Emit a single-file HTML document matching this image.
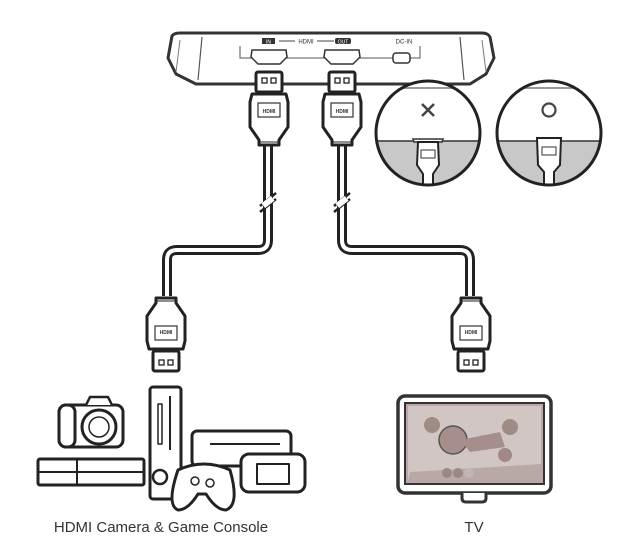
<!DOCTYPE html>
<html><head><meta charset="utf-8"><style>
html,body{margin:0;padding:0;background:#fff;}
svg{display:block;}
text{font-family:"Liberation Sans",sans-serif;}
</style></head><body>
<svg width="633" height="549" viewBox="0 0 633 549" xmlns="http://www.w3.org/2000/svg">
<defs>
<g id="plug">
  <!-- plug pointing up, origin at top center of tip -->
  <rect x="-13" y="0" width="26" height="20" rx="2" fill="#fff" stroke="#222" stroke-width="3"/>
  <rect x="-7" y="6" width="5" height="5" fill="none" stroke="#222" stroke-width="1.3"/>
  <rect x="2" y="6" width="5" height="5" fill="none" stroke="#222" stroke-width="1.3"/>
  <path d="M-17,22 L17,22 L19,30 L19,55 L10,68 L10,73 L-10,73 L-10,68 L-19,55 L-19,30 Z" fill="#fff" stroke="#222" stroke-width="3" stroke-linejoin="round"/>
  <rect x="-11" y="31" width="22" height="14" fill="none" stroke="#333" stroke-width="1.2"/>
  <text x="0" y="41" font-size="5" text-anchor="middle" fill="#333" font-weight="bold">HDMI</text>
  <line x1="-10" y1="70" x2="10" y2="70" stroke="#222" stroke-width="1"/>
</g>
</defs>

<!-- device -->
<path d="M172,36 Q174,33 180,33 L482,33 Q488,33 490,37 L494,58 L486,74 L470,84 L196,84 L176,74 L168,58 Z" fill="#fff" stroke="#333" stroke-width="3" stroke-linejoin="round"/>
<line x1="202" y1="37" x2="198" y2="80" stroke="#555" stroke-width="1.2"/>
<line x1="460" y1="37" x2="464" y2="80" stroke="#555" stroke-width="1.2"/>
<line x1="180" y1="40" x2="176" y2="72" stroke="#777" stroke-width="1"/>
<line x1="482" y1="40" x2="486" y2="72" stroke="#777" stroke-width="1"/>
<path d="M240,46 L240,58 L420,58 L420,46" fill="none" stroke="#555" stroke-width="1"/>
<rect x="262" y="38" width="13" height="6" fill="#333"/>
<text x="268.5" y="43.5" font-size="5" fill="#fff" text-anchor="middle">IN</text>
<line x1="279" y1="41" x2="295" y2="41" stroke="#444" stroke-width="1"/>
<text x="306" y="43.5" font-size="6" fill="#333" text-anchor="middle">HDMI</text>
<line x1="317" y1="41" x2="334" y2="41" stroke="#444" stroke-width="1"/>
<rect x="335" y="38" width="16" height="6" rx="2" fill="#333"/>
<text x="343" y="43.5" font-size="5" fill="#fff" text-anchor="middle">OUT</text>
<text x="404" y="43.5" font-size="6" fill="#333" text-anchor="middle">DC-IN</text>
<path d="M252,50 L286,50 L287,57 L280,64 L258,64 L251,57 Z" fill="#fff" stroke="#333" stroke-width="1.5"/>
<path d="M325,50 L359,50 L360,57 L353,64 L331,64 L324,57 Z" fill="#fff" stroke="#333" stroke-width="1.5"/>
<rect x="393" y="53" width="17" height="10" rx="3" fill="#fff" stroke="#333" stroke-width="1.5"/>

<!-- left cable -->
<path d="M268,145 L268,240 Q268,250 258,250 L177,250 Q167,250 167,260 L167,296" fill="none" stroke="#222" stroke-width="10" stroke-linejoin="round"/>
<path d="M268,145 L268,240 Q268,250 258,250 L177,250 Q167,250 167,260 L167,296" fill="none" stroke="#fff" stroke-width="4" stroke-linejoin="round"/>
<path d="M342,145 L342,240 Q342,250 352,250 L460,250 Q470,250 470,260 L470,296" fill="none" stroke="#222" stroke-width="10" stroke-linejoin="round"/>
<path d="M342,145 L342,240 Q342,250 352,250 L460,250 Q470,250 470,260 L470,296" fill="none" stroke="#fff" stroke-width="4" stroke-linejoin="round"/>
<!-- break marks -->
<path d="M260,206 L276,193 M260,212 L276,199" stroke="#222" stroke-width="2.5"/>
<rect x="262" y="199" width="12" height="6" fill="#fff" transform="rotate(-38 268 202)"/>
<path d="M334,206 L350,193 M334,212 L350,199" stroke="#222" stroke-width="2.5"/>
<rect x="336" y="199" width="12" height="6" fill="#fff" transform="rotate(-38 342 202)"/>

<!-- top plugs -->
<use href="#plug" transform="translate(269,72)"/>
<use href="#plug" transform="translate(342,72)"/>
<!-- bottom plugs (inverted) -->
<use href="#plug" transform="translate(166,371) scale(1,-1)"/>
<use href="#plug" transform="translate(471,371) scale(1,-1)"/>

<!-- detail circles -->
<clipPath id="c1"><circle cx="428" cy="133" r="52"/></clipPath>
<clipPath id="c2"><circle cx="549" cy="133" r="52"/></clipPath>
<g clip-path="url(#c1)">
  <rect x="370" y="75" width="120" height="120" fill="#fff"/>
  <line x1="370" y1="88" x2="490" y2="88" stroke="#999" stroke-width="2"/>
  <rect x="370" y="141" width="120" height="60" fill="#c8c8c8"/>
  <line x1="370" y1="141" x2="490" y2="141" stroke="#333" stroke-width="1.5"/>
  <path d="M413,139 L443,139 L442,142 L414,142 Z" fill="#fff" stroke="#333" stroke-width="1.5"/>
  <path d="M418,142 L438,142 L439,165 L433,174 L433,185 L423,185 L423,174 L417,165 Z" fill="#fff" stroke="#222" stroke-width="2"/>
  <rect x="421" y="150" width="14" height="8" fill="none" stroke="#333" stroke-width="1"/>
</g>
<circle cx="428" cy="133" r="52" fill="none" stroke="#222" stroke-width="3"/>
<path d="M422,104 L434,116 M434,104 L422,116" stroke="#444" stroke-width="2.5"/>
<g clip-path="url(#c2)">
  <rect x="490" y="75" width="120" height="120" fill="#fff"/>
  <line x1="490" y1="88" x2="610" y2="88" stroke="#999" stroke-width="2"/>
  <rect x="490" y="141" width="120" height="60" fill="#c8c8c8"/>
  <line x1="490" y1="141" x2="610" y2="141" stroke="#333" stroke-width="1.5"/>
  <path d="M537,138 L561,138 L560,165 L554,172 L554,185 L544,185 L544,172 L538,165 Z" fill="#fff" stroke="#222" stroke-width="2"/>
  <rect x="542" y="147" width="14" height="8" fill="none" stroke="#333" stroke-width="1"/>
</g>
<circle cx="549" cy="133" r="52" fill="none" stroke="#222" stroke-width="3"/>
<circle cx="549" cy="110" r="6.5" fill="none" stroke="#444" stroke-width="2.2"/>

<!-- source devices -->
<g fill="#fff" stroke="#222" stroke-width="3" stroke-linejoin="round">
  <!-- PS4 -->
  <rect x="38" y="459" width="106" height="26" rx="2"/>
  <line x1="38" y1="472" x2="144" y2="472" stroke-width="2"/>
  <line x1="77" y1="459" x2="77" y2="485" stroke-width="2"/>
  <!-- camera -->
  <rect x="59" y="405" width="64" height="42" rx="7"/>
  <rect x="59" y="405" width="16" height="42" rx="7"/>
  <circle cx="99" cy="427" r="17"/>
  <circle cx="99" cy="427" r="10" stroke-width="1.5"/>
  <path d="M86,405 L90,397 L108,397 L112,405" stroke-width="2.5"/>
  <!-- xbox -->
  <rect x="150" y="387" width="31" height="112" rx="3"/>
  <line x1="170" y1="396" x2="170" y2="450" stroke-width="2"/>
  <rect x="158" y="404" width="4" height="40" stroke-width="1.5"/>
  <circle cx="160" cy="477" r="7" stroke-width="2.5"/>
  <!-- wii -->
  <rect x="192" y="431" width="99" height="35" rx="5"/>
  <line x1="210" y1="444" x2="280" y2="444" stroke-width="2"/>
  <!-- gamepad -->
  <rect x="241" y="454" width="64" height="38" rx="8"/>
  <rect x="257" y="464" width="32" height="20" stroke-width="2"/>
  <!-- controller -->
  <path d="M178,470 Q204,458 230,470 Q240,505 226,510 Q216,510 206,494 L198,494 Q188,510 178,510 Q166,505 178,470 Z"/>
  <circle cx="195" cy="481" r="4" stroke-width="1.5"/>
  <circle cx="210" cy="483" r="4" stroke-width="1.5"/>
</g>
<!-- TV -->
<rect x="398" y="396" width="153" height="97" rx="7" fill="#fff" stroke="#333" stroke-width="3.5"/>
<rect x="405" y="403" width="139" height="81" fill="#b9a8a6" stroke="#333" stroke-width="2"/>
<rect x="408" y="406" width="133" height="75" fill="#d2c6c4"/>
<circle cx="453" cy="440" r="14" fill="#a58e8b" stroke="#555" stroke-width="1.5"/>
<circle cx="432" cy="425" r="8" fill="#a08a88"/>
<circle cx="505" cy="455" r="7" fill="#a08a88"/>
<circle cx="510" cy="427" r="8" fill="#a08a88"/>
<path d="M460,440 L500,432 L505,447 L470,452 Z" fill="#a58e8b"/>
<path d="M410,472 L541,464 L541,481 L408,481 Z" fill="#b9a8a6"/>
<circle cx="447" cy="473" r="5" fill="#9a8886"/><circle cx="458" cy="473" r="5" fill="#9a8886"/><circle cx="469" cy="473" r="5" fill="#c2b6b4"/>
<path d="M462,493 L462,498 Q462,502 466,502 L482,502 Q486,502 486,498 L486,493" fill="#fff" stroke="#333" stroke-width="3"/>

<text x="161" y="532" font-size="15" text-anchor="middle" fill="#333">HDMI Camera &amp; Game Console</text>
<text x="474" y="532" font-size="15" text-anchor="middle" fill="#333">TV</text>
</svg>
</body></html>
